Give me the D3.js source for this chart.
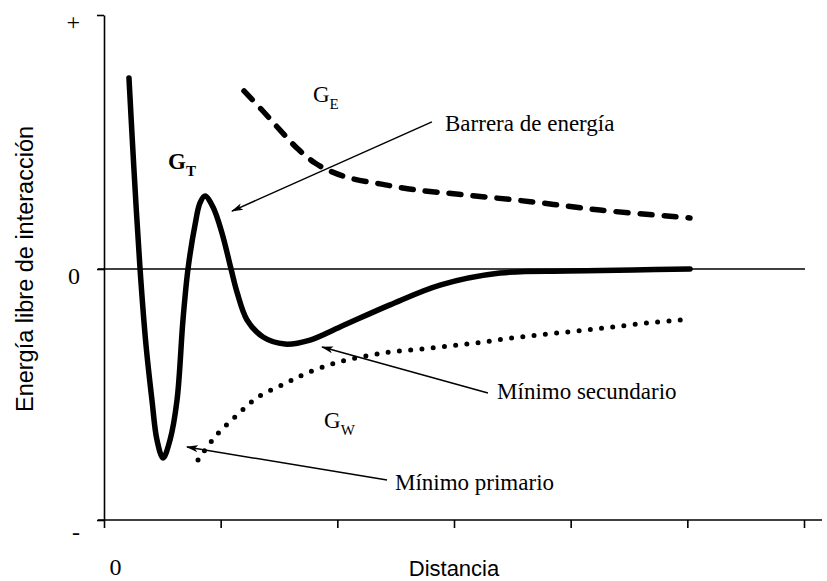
<!DOCTYPE html>
<html>
<head>
<meta charset="utf-8">
<script src="https://cdnjs.cloudflare.com/ajax/libs/d3/7.8.5/d3.min.js"></script>
<style>
body{margin:0;background:#fff;}
svg{display:block;}
</style>
</head>
<body>
<svg id="svg"></svg>
<script>
const WIDTH = 827, HEIGHT = 581;

// total energy G_T (solid)
const distT = [0.214,0.257,0.309,0.360,0.411,0.454,0.506,0.566,0.626,0.677,0.720,0.780,0.823,0.866,0.934,1.011,1.089,1.140,1.226,1.363,1.551,1.766,2.023,2.451,2.880,3.394,3.969,4.534,5.023];
const energyT = [75.2,39.0,0,-30.3,-52.2,-68.1,-75.3,-68.1,-52.2,-20.3,0,17.3,26.0,28.7,24.4,14.2,0,-9.2,-20.3,-27.1,-29.9,-28.3,-23.1,-14.3,-6.4,-1.6,-0.8,-0.4,0];
// electrostatic G_E (dashed)
const distE = [1.200,1.354,1.509,1.663,1.809,1.937,2.109,2.366,2.683,3.111,3.677,4.251,5.023];
const energyE = [70.1,62.6,54.7,47.2,41.7,38.6,35.8,33.5,31.1,29.1,26.4,23.2,20.1];
// van der Waals G_W (dotted)
const distW = [0.806,0.951,1.140,1.320,1.526,1.723,2.006,2.391,2.794,3.180,3.566,3.969,4.354,4.740,4.946];
const energyW = [-76.1,-66.9,-58.2,-51.0,-46.2,-41.8,-37.1,-33.5,-31.5,-29.5,-27.1,-25.1,-23.1,-21.1,-20.3];

const xTicks = [0,1,2,3,4,5,6];
const xTickLabels = ['0','','','','','',''];
const yTicks = [-100,0,100];
const yTickLabels = ['-','0','+'];

const notes = [
    {text:'Barrera de energía', x:2.923, y:54.3, x1:2.811, y1:57.9, x2:1.097, y2:22.8},
    {text:'Mínimo secundario', x:3.369, y:-51.8, x1:3.291, y1:-49.4, x2:1.869, y2:-31.1},
    {text:'Mínimo primario', x:2.494, y:-88.0, x1:2.426, y1:-84.1, x2:0.711, y2:-70.9}
];
const curveLabels = [
    {main:'G', sub:'T', x:0.549, y:39.4, bold:true},
    {main:'G', sub:'E', x:1.791, y:65.7, bold:false},
    {main:'G', sub:'W', x:1.886, y:-63.3, bold:false}
];

const svg = d3.select('#svg').attr('width',WIDTH).attr('height',HEIGHT);
const x = d3.scaleLinear().domain([0,6]).range([104,804]);
const y = d3.scaleLinear().domain([-100,0,100]).range([520,269,15]);

const serif = '"Liberation Serif","Times New Roman",serif';
const sans = '"Liberation Sans",Arial,sans-serif';

svg.append('defs').append('marker')
    .attr('id','arrow').attr('viewBox','0 -5 12 10').attr('refX',11).attr('refY',0)
    .attr('markerWidth',12).attr('markerHeight',10).attr('markerUnits','userSpaceOnUse').attr('orient','auto')
    .append('path').attr('d','M0,-3.5L12,0L0,3.5L3,0Z').attr('fill','#000');

// axes
const xAxis = svg.append('g').attr('transform','translate(0,'+y(-100)+')')
    .call(d3.axisBottom(x).tickValues(xTicks).tickSize(8).tickSizeOuter(0).tickFormat((d,i) => xTickLabels[i]));
xAxis.select('.domain').remove();
xAxis.append('line').attr('x1',x(0)-6).attr('x2',x(6)+18).attr('y1',0).attr('y2',0);
xAxis.selectAll('line').attr('stroke','#000').attr('stroke-width',1.6);
xAxis.selectAll('text').attr('y',55).attr('dy',null).attr('x',11)
    .style('font-family',serif).style('font-size','24px').attr('fill','#000');

const yAxis = svg.append('g').attr('transform','translate('+x(0)+',0)')
    .call(d3.axisLeft(y).tickValues(yTicks).tickSize(7).tickSizeOuter(0).tickFormat((d,i) => yTickLabels[i]));
yAxis.select('.domain').attr('stroke','#000').attr('stroke-width',1.6);
yAxis.selectAll('line').attr('stroke','#000').attr('stroke-width',1.6);
yAxis.selectAll('text').attr('x',-24).attr('y',(d,i) => yTickLabels[i] == '-' ? 19 : 14).attr('dy',null)
    .style('font-family',serif).style('font-size','24px').attr('fill','#000');

svg.append('line').attr('x1',x(0)-6).attr('x2',x(6)+1).attr('y1',y(0)).attr('y2',y(0))
    .attr('stroke','#000').attr('stroke-width',1.6);

svg.append('text').attr('x',(x(0)+x(6))/2).attr('y',576).attr('text-anchor','middle')
    .style('font-family',sans).style('font-size','22px').text('Distancia');
svg.append('text').attr('transform','translate(33,'+y(0)+') rotate(-90)').attr('text-anchor','middle')
    .style('font-family',sans).style('font-size','23.5px').text('Energía libre de interacción');

// curves
const line = d3.line().x(d => x(d[0])).y(d => y(d[1])).curve(d3.curveCatmullRom.alpha(0.5));
svg.append('path').attr('d',line(d3.zip(distT,energyT)))
    .attr('fill','none').attr('stroke','#000').attr('stroke-width',5.5).attr('stroke-linejoin','round').attr('stroke-linecap','round');
svg.append('path').attr('d',line(d3.zip(distE,energyE)))
    .attr('fill','none').attr('stroke','#000').attr('stroke-width',5.5).attr('stroke-linecap','round').attr('stroke-dasharray','12,12');
svg.append('path').attr('d',line(d3.zip(distW,energyW)))
    .attr('fill','none').attr('stroke','#000').attr('stroke-width',5).attr('stroke-linecap','round').attr('stroke-dasharray','0,11.3');

// annotations
notes.forEach(n => {
    svg.append('line').attr('x1',x(n.x1)).attr('y1',y(n.y1)).attr('x2',x(n.x2)).attr('y2',y(n.y2))
        .attr('stroke','#000').attr('stroke-width',1.5).attr('marker-end','url(#arrow)');
    svg.append('text').attr('x',x(n.x)).attr('y',y(n.y))
        .style('font-family',serif).style('font-size','23px').text(n.text);
});
curveLabels.forEach(c => {
    const t = svg.append('text').attr('x',x(c.x)).attr('y',y(c.y))
        .style('font-family',serif).style('font-weight',c.bold ? 'bold' : 'normal');
    t.append('tspan').style('font-size','23px').text(c.main);
    t.append('tspan').attr('dy',7).style('font-size','15px').text(c.sub);
});
</script>
</body>
</html>
